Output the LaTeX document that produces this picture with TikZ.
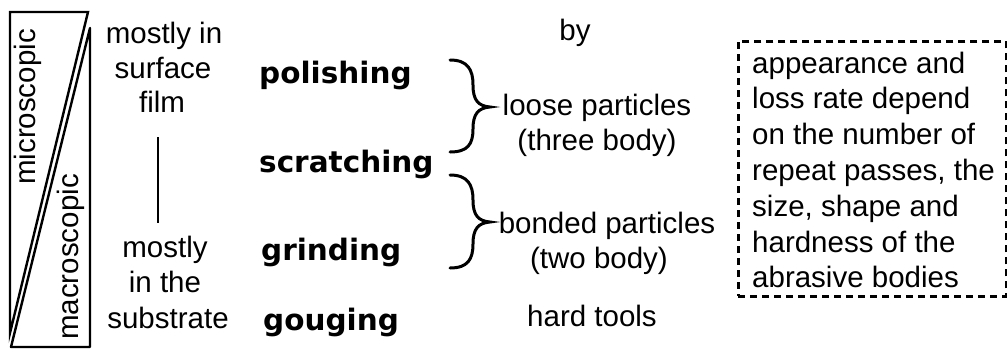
\documentclass[tikz,border=0pt]{standalone}
\usepackage{fontspec}
\setmainfont{Liberation Sans}
\newfontfamily\dvs{DejaVu Sans}
\begin{document}
\begin{tikzpicture}[x=1pt,y=-1pt,
  lbl/.style={font=\fontsize{29.5}{35.8}\selectfont, inner sep=0pt, anchor=base},
  act/.style={font=\dvs\bfseries\fontsize{29.5}{35}\selectfont, inner sep=0pt, anchor=base west},
  frame/.style={line width=2.4pt},
  brc/.style={line width=3pt, line cap=round},
  vline/.style={line width=2.4pt},
  dbox/.style={draw, dash pattern=on 7pt off 5pt, line width=2.5pt, inner sep=0pt}]
\useasboundingbox (0,0) rectangle (1007,351);
% left triangles
\draw[frame, line join=miter] (10,12) -- (88,12) -- (10,333) -- cycle;
\draw[frame, line join=round] (90,28) -- (90,347) -- (11,347) -- cycle;
\node[lbl, rotate=90, anchor=center] (micro) at (28,107) {microscopic};
\node[lbl, rotate=90, anchor=center] (macro) at (71,257) {macroscopic};
% column 1
\node[lbl] (c1a) at (164,43) {mostly in};
\node[lbl] (c1b) at (163,78) {surface};
\node[lbl] (c1c) at (162,112) {film};
\node[lbl] (c1d) at (165,257) {mostly};
\node[lbl] (c1e) at (165,292) {in the};
\node[lbl] (c1f) at (168,328) {substrate};
\coordinate (vt) at (158,137);
\coordinate (vb) at (158,223);
\draw[vline] (vt) -- (vb);
% column 2
\node[act] (pol) at (259,83) {polishing};
\node[act] (scr) at (259,172) {scratching};
\node[act] (gri) at (261,260) {grinding};
\node[act] (gou) at (263,330) {gouging};
% braces
\coordinate (b1) at (450,60);
\coordinate (b2) at (450,175);
\draw[brc] (b1) .. controls +(18,0) and +(0,-15) .. ++(23,25)
  .. controls +(0,15) and +(-12,-1) .. ++(17,22)
  .. controls +(-12,1) and +(0,-15) .. ++(-17,22)
  .. controls +(0,15) and +(18,0) .. ++(-23,23);
\draw[brc] (b2) .. controls +(18,0) and +(0,-15) .. ++(23,25)
  .. controls +(0,15) and +(-12,-1) .. ++(17,22)
  .. controls +(-12,1) and +(0,-15) .. ++(-17,22)
  .. controls +(0,15) and +(18,0) .. ++(-23,24);
% column 3
\node[lbl] (by) at (575,40) {by};
\node[lbl] (loose) at (597,115) {loose particles};
\node[lbl] (three) at (597,150) {(three body)};
\node[lbl] (bonded) at (607,233) {bonded particles};
\node[lbl] (two) at (599,268) {(two body)};
\node[lbl] (hard) at (592,326) {hard tools};
% dashed box
\node[dbox, minimum width=268pt, minimum height=255pt, anchor=north west] (box) at (737,40) {};
\node[lbl, anchor=base west] (boxtxt) at (752,73) {\begin{tabular}[t]{@{}l@{}}appearance and\\loss rate depend\\on the number of\\repeat passes, the\\size, shape and\\hardness of the\\abrasive bodies\end{tabular}};
\end{tikzpicture}
\end{document}
